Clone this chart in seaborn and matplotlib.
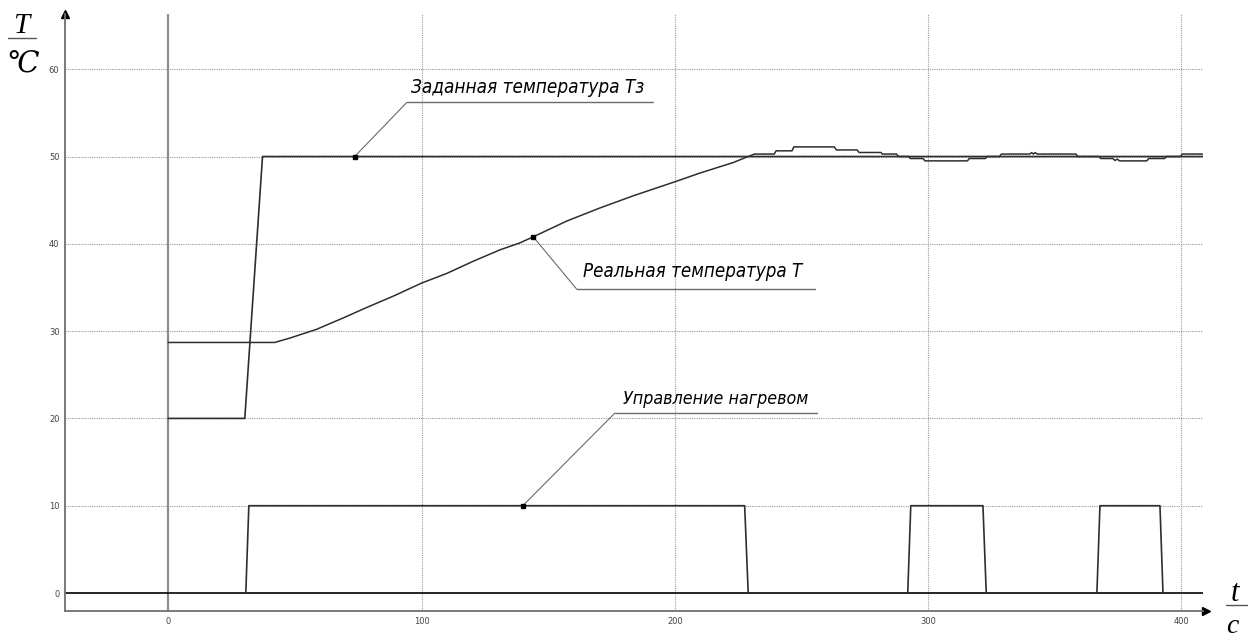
import matplotlib
matplotlib.use("Agg")
import matplotlib.pyplot as plt
from matplotlib.lines import Line2D
from matplotlib import font_manager
import seaborn as sns
import numpy as np

# --- data -------------------------------------------------------------
# setpoint temperature Tз
set_t = [0, 30.2, 37.2, 408.5]
set_T = [20, 20, 50, 50]

# measured temperature T
real_t = [0, 42, 48, 58.5, 69, 78.3, 88.8, 100, 109.9, 120.4, 130.9, 138.8,
          144.1, 157.3, 170.4, 183.6, 200, 209.9, 223, 229,
          231.5, 232.3, 239.3, 240.0, 246.3, 247.0, 263.0, 263.8, 272.0, 272.8,
          281.4, 282.0, 287.6, 288.3, 292.4, 293.0, 298.0, 298.8, 315.6, 316.3,
          322.7, 323.3, 328.2, 329.0, 340.2, 340.9, 341.6, 342.3, 343.2, 343.8,
          344.4, 358.4, 359.2, 367.5, 368.2, 373.0, 373.8, 374.8, 375.6, 376.6,
          386.4, 387.2, 393.4, 394.2, 399.7, 400.4, 408.5]
real_T = [28.7, 28.7, 29.2, 30.2, 31.5, 32.7, 34.0, 35.5, 36.6, 38.0, 39.3, 40.1,
          40.8, 42.6, 44.1, 45.5, 47.1, 48.1, 49.3, 50.0,
          50.28, 50.28, 50.28, 50.65, 50.65, 51.1, 51.1, 50.75, 50.75, 50.46,
          50.46, 50.28, 50.28, 50.0, 50.0, 49.77, 49.77, 49.5, 49.5, 49.77,
          49.77, 50.0, 50.0, 50.28, 50.28, 50.45, 50.28, 50.45, 50.28, 50.28,
          50.28, 50.28, 50.0, 50.0, 49.77, 49.77, 49.55, 49.7, 49.5, 49.5,
          49.5, 49.77, 49.77, 50.0, 50.0, 50.28, 50.28]

# heater control signal
ctrl_t = [0, 30.6, 31.8, 227.6, 229.0, 292.0, 293.2, 321.7, 323.0,
          366.7, 367.9, 391.6, 392.8, 408.5]
ctrl_v = [0, 0, 10, 10, 0, 0, 10, 10, 0, 0, 10, 10, 0, 0]

x_major = [0, 100, 200, 300, 400]
y_major = [0, 10, 20, 30, 40, 50, 60]

label_set = "Заданная температура Tз"
label_real = "Реальная температура T"
label_ctrl = "Управление нагревом"


def narrow_italic_font():
    """Pick a narrow/condensed italic face if one is installed."""
    best = None
    for f in font_manager.fontManager.ttflist:
        name = f.name.lower()
        narrow = ("narrow" in name or "condensed" in name
                  or "condensed" in str(f.stretch) or
                  "condensed" in f.fname.lower())
        if not narrow:
            continue
        score = 2 if f.style in ("italic", "oblique") else 1
        if f.weight in (400, "normal", "regular", 300, "light"):
            score += 1
        if best is None or score > best[0]:
            best = (score, f.fname)
    if best is not None:
        return font_manager.FontProperties(fname=best[1])
    return font_manager.FontProperties(family="DejaVu Sans", style="oblique")


# --- figure -----------------------------------------------------------
sns.set_style("white")
plt.rcParams["font.family"] = ["DejaVu Sans"]

W, H = 1256, 641
fig = plt.figure(figsize=(W / 100, H / 100), dpi=100)
ax = fig.add_axes([65 / W, 1 - 611 / H, (1203 - 65) / W, (611 - 14.2) / H])
ax.set_xlim(-40.8, 408.6)
ax.set_ylim(-2.06, 66.3)

grid_kw = dict(color="#9a9a9a", lw=0.8, linestyle=(0, (1, 1)), zorder=0)
for x in x_major[1:]:
    ax.axvline(x, **grid_kw)
for y in y_major[1:]:
    ax.axhline(y, **grid_kw)

ax.axvline(0, color="#8c8c8c", lw=1.6, zorder=1)
ax.axhline(0, color="black", lw=1.2, zorder=1)

line_col = "#2e2e2e"
sns.lineplot(x=set_t, y=set_T, ax=ax, color=line_col, lw=1.2,
             estimator=None, sort=False, zorder=3)
sns.lineplot(x=real_t, y=real_T, ax=ax, color=line_col, lw=1.1,
             estimator=None, sort=False, zorder=3)
sns.lineplot(x=ctrl_t, y=ctrl_v, ax=ax, color=line_col, lw=1.2,
             estimator=None, sort=False, zorder=3)

# callouts: dot on the curve, leader, underline and caption
cap_font = narrow_italic_font()
callouts = [
    ((73.6, 50.0), (94.2, 56.2), 191.5, (96.0, 57.3), 233, label_set),
    ((real_t[12], real_T[12]), (161.3, 34.8), 255.3, (163.7, 36.2), 219, label_real),
    ((140.0, 10.0), (176.3, 20.6), 256.2, (179.5, 21.7), 185, label_ctrl),
]
captions = []
for (px, py), (lx, ly), ux, (tx, ty), width_px, txt in callouts:
    ax.plot([px, lx], [py, ly], color="#6a6a6a", lw=0.8, zorder=4)
    ax.plot([lx, ux], [ly, ly], color="#6a6a6a", lw=1.0, zorder=4)
    ax.plot(px, py, marker="s", ms=3, color="black", zorder=5)
    t = ax.text(tx, ty, txt, ha="left", va="baseline", color="black",
                fontproperties=cap_font.copy(), fontsize=18)
    captions.append((t, width_px))

# size each caption so it spans its underline
renderer = fig.canvas.get_renderer()
for t, width_px in captions:
    w = t.get_window_extent(renderer).width
    t.set_fontsize(min(26, 18 * width_px / w))

# axes, ticks
for s in ["top", "right"]:
    ax.spines[s].set_visible(False)
for s in ["left", "bottom"]:
    ax.spines[s].set_color("#707070")
    ax.spines[s].set_linewidth(1.3)

ax.set_xticks(x_major)
ax.set_yticks(y_major)
ax.set_xticks(np.arange(-40, 401, 20), minor=True)
ax.set_yticks(np.arange(0, 67, 2), minor=True)
ax.tick_params(which="both", direction="in", length=2.5, width=0.8,
               color="#707070", labelsize=6, labelcolor="#444444")
ax.tick_params(axis="x", pad=4)
ax.tick_params(axis="y", pad=4)

# arrow heads at the ends of the axes
ax.plot(1.003, 0, marker=">", ms=6, color="black", transform=ax.transAxes,
        clip_on=False)
ax.plot(0, 1.0, marker="^", ms=6, color="black", transform=ax.transAxes,
        clip_on=False)

# unit fractions for the axes
frac_font = dict(family=["Liberation Serif", "DejaVu Serif"], style="italic",
                 color="black")
fig.text(21 / W, 1 - 33 / H, "T", ha="center", va="baseline", fontsize=21,
         **frac_font)
fig.add_artist(Line2D([8 / W, 36 / W], [1 - 38 / H, 1 - 38 / H],
                      color="#555555", lw=1.0))
fig.text(23 / W, 1 - 72 / H, "℃", ha="center", va="baseline", fontsize=21,
         **frac_font)

fig.text(1235 / W, 1 - 601 / H, "t", ha="center", va="baseline", fontsize=22,
         **frac_font)
fig.add_artist(Line2D([1226 / W, 1247 / W], [1 - 605 / H, 1 - 605 / H],
                      color="#555555", lw=1.0))
fig.text(1232 / W, 1 - 633 / H, "c", ha="center", va="baseline", fontsize=20,
         **frac_font)

fig.savefig("out.png", dpi=100)
